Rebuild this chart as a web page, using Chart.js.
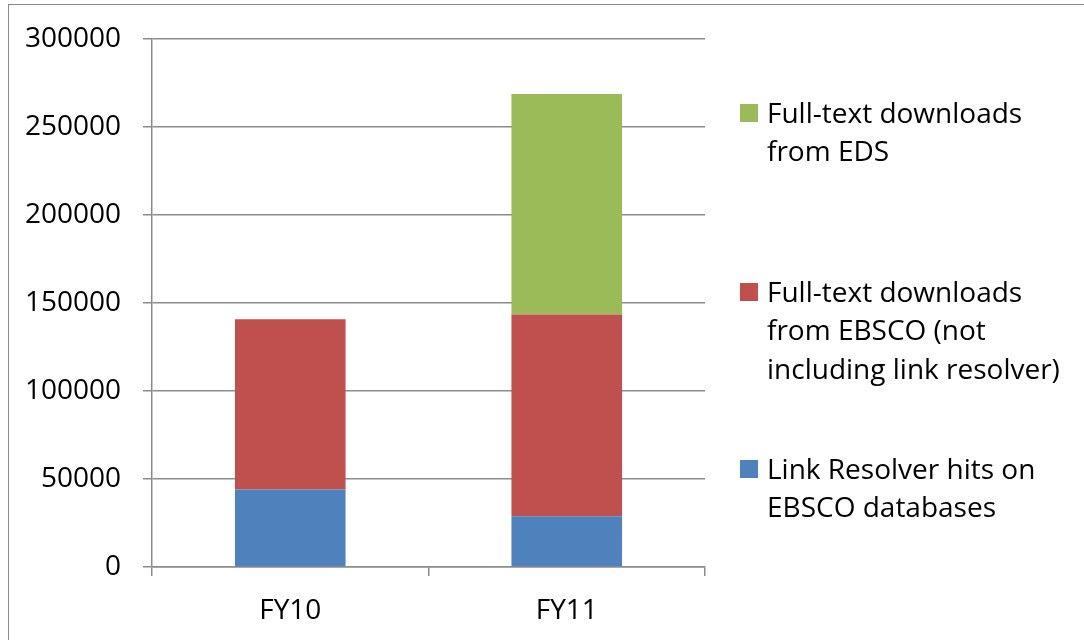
<!DOCTYPE html>
<html>
<head>
<meta charset="utf-8">
<script src="https://cdn.jsdelivr.net/npm/chart.js@4"></script>
<style>
  html, body { margin: 0; padding: 0; background: #fff; }
  #wrap { position: relative; width: 1084px; height: 640px; overflow: hidden; background: #fff; }
  #frame { position: absolute; left: 8px; top: 4px; width: 1200px; height: 800px; border: 1.5px solid #8a8a8a; box-sizing: border-box; }
  canvas { position: absolute; left: 0; top: 0; }
  .lg { position: absolute; left: 740px; font-family: "Open Sans", sans-serif; font-size: 28px; line-height: 38.5px; color: #000; }
  .lg .sw { position: absolute; left: 0; width: 18px; height: 18px; }
  .lg .tx { position: absolute; left: 27px; white-space: nowrap; }
</style>
</head>
<body>
<div id="wrap">
  <div id="frame"></div>
  <canvas id="c" width="1084" height="640"></canvas>
  <div id="legend"></div>
</div>
<script>
// ---- data ----
const categories = ["FY10", "FY11"];
const linkResolverHits = [44100, 28800];
const ebscoDownloads = [96600, 114600];
const edsDownloads = [null, 125400];
const seriesNames = [
  ["Link Resolver hits on", "EBSCO databases"],
  ["Full-text downloads", "from EBSCO (not", "including link resolver)"],
  ["Full-text downloads", "from EDS"]
];
const seriesColors = ["#4F81BD", "#C0504D", "#9BBB59"];
const yTicks = [0, 50000, 100000, 150000, 200000, 250000, 300000];

const seriesValues = [linkResolverHits, ebscoDownloads, edsDownloads];
const datasets = seriesValues.map((v, i) => ({
  label: seriesNames[i].join(" "),
  data: v,
  backgroundColor: seriesColors[i],
  borderWidth: 0,
  categoryPercentage: 1.0,
  barPercentage: 0.4
}));

const FONT = { family: "'Open Sans', sans-serif", size: 28 };
const GRID = "#8c8c8c";

new Chart(document.getElementById("c"), {
  type: "bar",
  data: { labels: categories, datasets },
  options: {
    responsive: false,
    animation: false,
    devicePixelRatio: 1,
    layout: { padding: { left: 0, right: 379, top: 39, bottom: 15 } },
    plugins: { legend: { display: false }, tooltip: { enabled: false } },
    scales: {
      x: {
        stacked: true,
        offset: true,
        afterFit: (axis) => { axis.height = 58; },
        grid: { display: true, drawOnChartArea: false, drawTicks: true, tickLength: 9, color: GRID, lineWidth: 1.5, offset: true },
        border: { display: true, color: GRID, width: 1.5 },
        ticks: { font: FONT, color: "#000", padding: 18, maxRotation: 0 }
      },
      y: {
        stacked: true,
        min: 0,
        max: 300000,
        afterFit: (axis) => { axis.width = 152; },
        afterBuildTicks: (axis) => { axis.ticks = yTicks.map(v => ({ value: v })); },
        grid: { display: true, drawOnChartArea: true, drawTicks: true, tickLength: 9, color: GRID, lineWidth: 1.5 },
        border: { display: true, color: GRID, width: 1.5 },
        ticks: { font: FONT, color: "#000", padding: 22, callback: (v) => String(v) }
      }
    }
  }
});

// ---- legend (HTML, reversed order like the original) ----
const legendTops = [448.5, 271.5, 92.5];
const legend = document.getElementById("legend");
for (let i = seriesNames.length - 1; i >= 0; i--) {
  const item = document.createElement("div");
  item.className = "lg";
  item.style.top = legendTops[i] + "px";
  const sw = document.createElement("div");
  sw.className = "sw";
  sw.style.background = seriesColors[i];
  sw.style.top = "11px";
  item.appendChild(sw);
  const tx = document.createElement("div");
  tx.className = "tx";
  tx.innerHTML = seriesNames[i].join("<br>");
  item.appendChild(tx);
  legend.appendChild(item);
}
</script>
</body>
</html>
